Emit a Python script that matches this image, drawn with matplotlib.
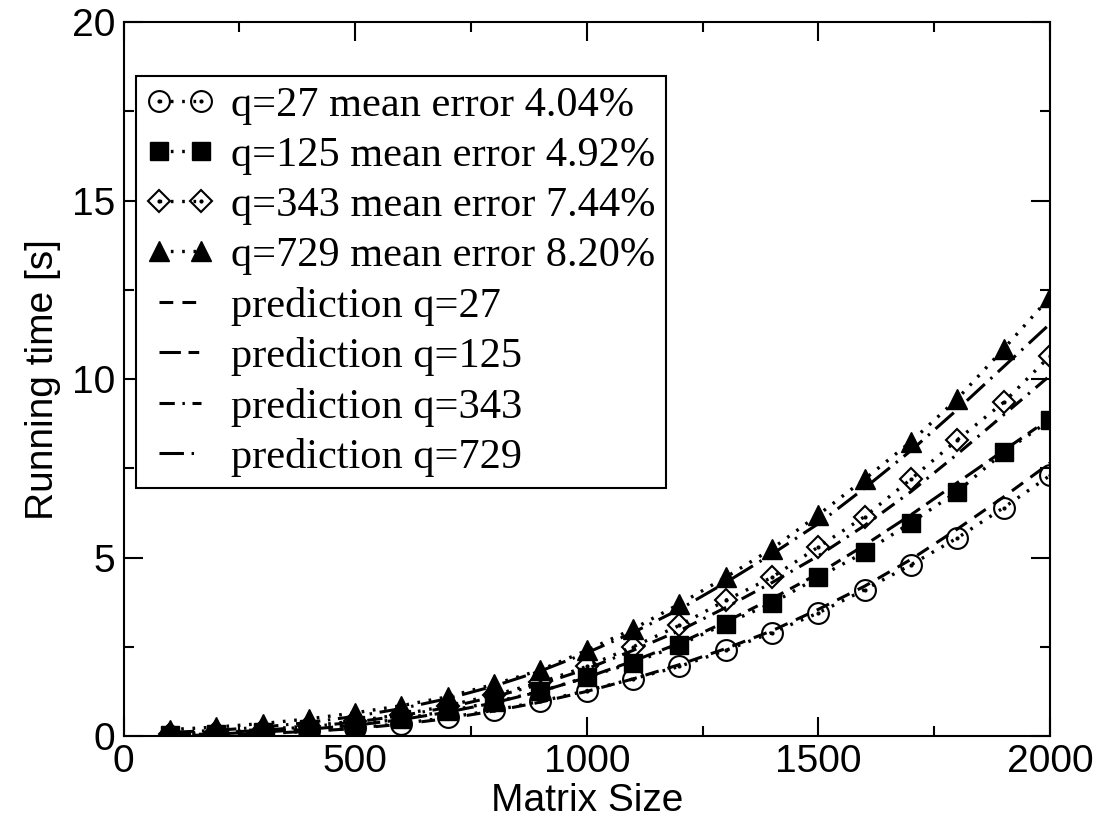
import numpy as np
from matplotlib import pyplot as plt
from matplotlib.legend_handler import HandlerTuple

# matrix sizes
n = [100, 200, 300, 400, 500, 600, 700, 800, 900, 1000,
     1100, 1200, 1300, 1400, 1500, 1600, 1700, 1800, 1900, 2000]

# measured running time [s]
t27 = [0.01, 0.03, 0.07, 0.13, 0.22, 0.35, 0.52, 0.72, 0.97, 1.27,
       1.6, 1.95, 2.4, 2.9, 3.45, 4.1, 4.8, 5.55, 6.4, 7.3]
t125 = [0.04, 0.07, 0.12, 0.2, 0.32, 0.48, 0.7, 0.95, 1.25, 1.65,
        2.05, 2.55, 3.15, 3.72, 4.45, 5.15, 5.98, 6.85, 7.95, 8.85]
t343 = [0.07, 0.11, 0.18, 0.28, 0.42, 0.6, 0.85, 1.15, 1.5, 1.95,
        2.5, 3.1, 3.8, 4.45, 5.3, 6.15, 7.2, 8.3, 9.35, 10.65]
t729 = [0.18, 0.25, 0.35, 0.48, 0.65, 0.85, 1.1, 1.45, 1.85, 2.4,
        3.0, 3.7, 4.45, 5.25, 6.2, 7.2, 8.25, 9.45, 10.85, 12.3]

# predicted running time [s]
p27 = [0.01, 0.03, 0.07, 0.13, 0.21, 0.33, 0.49, 0.7, 0.95, 1.25,
       1.6, 2.0, 2.45, 2.95, 3.55, 4.2, 4.95, 5.8, 6.7, 7.65]
p125 = [0.03, 0.06, 0.11, 0.19, 0.3, 0.46, 0.67, 0.93, 1.25, 1.64,
        2.1, 2.6, 3.2, 3.85, 4.55, 5.35, 6.2, 7.1, 8.0, 8.9]
p343 = [0.05, 0.09, 0.16, 0.26, 0.39, 0.57, 0.8, 1.1, 1.45, 1.88,
        2.4, 2.95, 3.6, 4.3, 5.05, 5.9, 6.85, 7.9, 9.0, 10.1]
p729 = [0.1, 0.16, 0.25, 0.38, 0.55, 0.77, 1.05, 1.4, 1.82, 2.33,
        2.9, 3.55, 4.3, 5.1, 5.95, 6.95, 8.0, 9.15, 10.35, 11.55]

labels = ['q=27 mean error 4.04%', 'q=125 mean error 4.92%',
          'q=343 mean error 7.44%', 'q=729 mean error 8.20%']
plabels = ['prediction q=27', 'prediction q=125',
           'prediction q=343', 'prediction q=729']

plt.rcParams['font.family'] = 'Liberation Sans'
fig = plt.figure(figsize=(11.03, 8.23), dpi=100)
ax = fig.add_axes([0.112, 0.1057, 0.840, 0.8673])

dot = (0, (0.8, 2.6))
lw = 2.4
handles = []

h1, = ax.plot(n, t27, color='k', lw=lw, ls=dot, marker='o', ms=15,
              mfc='none', mew=1.5)
c1, = ax.plot(n, t27, 'k.', ms=4)
handles.append((h1, c1))
h2, = ax.plot(n, t125, color='k', lw=lw, ls=dot, marker='s', ms=13)
handles.append(h2)
h3, = ax.plot(n, t343, color='k', lw=lw, ls=dot, marker='D', ms=11,
              mfc='none', mew=1.5)
c3, = ax.plot(n, t343, 'k.', ms=4)
handles.append((h3, c3))
h4, = ax.plot(n, t729, color='k', lw=lw, ls=dot, marker='^', ms=15)
handles.append(h4)

plw = 2.2
g1, = ax.plot(n, p27, color='k', lw=plw, ls=(0, (4.5, 3)))
g2, = ax.plot(n, p125, color='k', lw=plw, ls=(0, (7, 2.5, 3.5, 2.5)))
g3, = ax.plot(n, p343, color='k', lw=plw, ls=(0, (5, 2.5, 0.8, 2.5)))
g4, = ax.plot(n, p729, color='k', lw=plw, ls=(0, (8, 2.5, 0.8, 2.5)))
handles += [g1, g2, g3, g4]

ax.set_xlim(0, 2000)
ax.set_ylim(0, 20)
ax.set_xticks([0, 500, 1000, 1500, 2000])
ax.set_yticks([0, 5, 10, 15, 20])
ax.set_xticks(np.arange(0, 2001, 250), minor=True)
ax.set_yticks(np.arange(0, 20.1, 2.5), minor=True)
ax.tick_params(which='both', direction='in', top=True, right=True,
               labelsize=28, width=1.5, pad=6)
ax.tick_params(which='major', length=14)
ax.tick_params(which='minor', length=7)
for s in ax.spines.values():
    s.set_linewidth(1.5)

ax.set_xlabel('Matrix Size', fontsize=28, labelpad=2)
ax.set_ylabel('Running time [s]', fontsize=28, labelpad=8)

leg = ax.legend(handles, labels + plabels, loc='upper left',
                bbox_to_anchor=(0.013, 0.925), borderaxespad=0,
                numpoints=2, handlelength=1.6, handletextpad=0.4,
                labelspacing=0.27, borderpad=0.25, fancybox=False,
                edgecolor='k', framealpha=1,
                prop={'family': 'Liberation Serif', 'size': 30.5},
                handler_map={tuple: HandlerTuple(ndivide=1)})
leg.get_frame().set_linewidth(1.5)

plt.savefig('out.png', dpi=100)
